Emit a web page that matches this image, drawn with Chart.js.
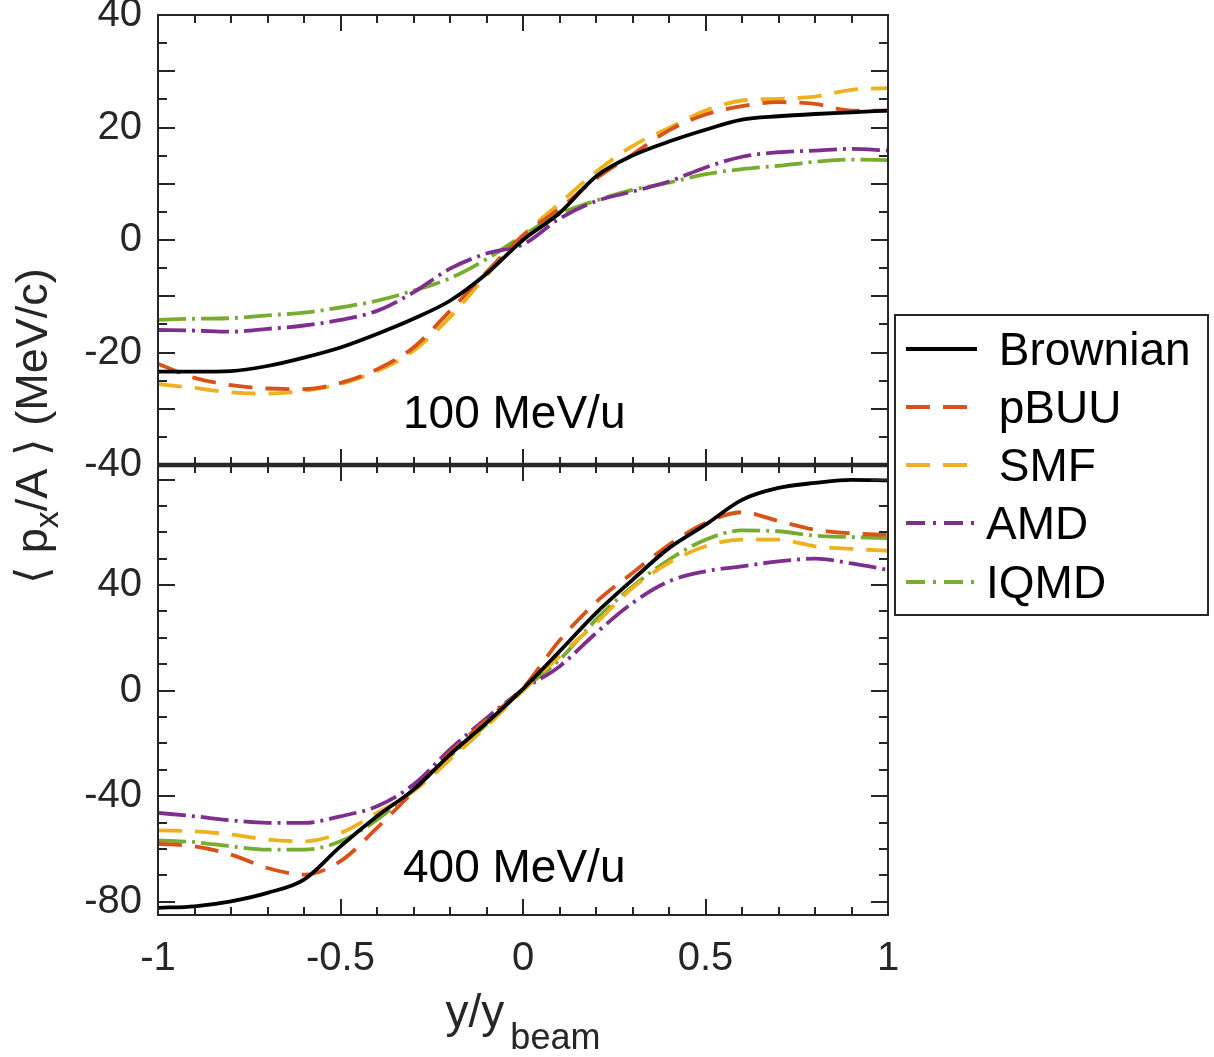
<!DOCTYPE html>
<html>
<head>
<meta charset="utf-8">
<title>Directed flow</title>
<script src="https://cdn.jsdelivr.net/npm/chart.js@4.4.1/dist/chart.umd.min.js"></script>
<style>
  html, body { margin: 0; padding: 0; background: #fff; }
  #wrap { width: 1214px; height: 1057px; }
</style>
</head>
<body>
<div id="wrap"><canvas id="flow" width="1214" height="1057"></canvas></div>
<script>
// rapidity grid, y/y_beam
const rapidity = [-1, -0.9, -0.8, -0.7, -0.6, -0.5, -0.4, -0.3, -0.2, -0.1, 0,
                  0.1, 0.2, 0.3, 0.4, 0.5, 0.6, 0.7, 0.8, 0.9, 1];

const modelNames = [' Brownian', ' pBUU', ' SMF', 'AMD', 'IQMD'];
const panelLabels = ['100 MeV/u', '400 MeV/u'];

// <px/A> (MeV/c) at 100 MeV/u
const brownian100 = [-23.4, -23.4, -23.3, -22.4, -20.9, -19.1, -16.7, -14.0, -10.8, -6.0, 0.0,
                     4.8, 11.3, 15.0, 17.5, 19.6, 21.4, 22.0, 22.4, 22.7, 23.0];
const pbuu100 = [-22.0, -24.5, -25.8, -26.4, -26.5, -25.4, -23.0, -19.1, -12.6, -5.7, 0.8,
                 5.6, 10.9, 15.2, 19.5, 22.3, 23.8, 24.5, 24.2, 23.0, 23.0];
const smf100 = [-25.6, -26.3, -27.1, -27.3, -26.8, -25.6, -23.3, -19.7, -13.7, -6.3, 0.8,
                6.5, 12.1, 16.7, 19.9, 23.0, 24.8, 25.1, 25.5, 26.7, 27.0];
const amd100 = [-16.0, -16.1, -16.3, -15.8, -15.2, -14.2, -12.6, -9.3, -5.1, -2.4, -0.8,
                3.8, 6.9, 8.6, 10.4, 12.9, 14.8, 15.6, 15.9, 16.2, 15.9];
const iqmd100 = [-14.2, -14.0, -13.9, -13.4, -12.9, -12.0, -10.8, -9.0, -6.8, -3.4, 0.8,
                 4.6, 7.0, 8.9, 10.2, 11.7, 12.6, 13.2, 13.9, 14.3, 14.2];

// <px/A> (MeV/c) at 400 MeV/u
const brownian400 = [-82.3, -81.7, -79.8, -76.6, -71.6, -59.0, -47.6, -37.5, -24.2, -12.2, 0.7,
                     14.9, 29.4, 42.0, 54.0, 62.9, 72.3, 76.8, 78.7, 79.9, 79.7];
const pbuu400 = [-58.0, -59.0, -62.1, -67.2, -69.7, -64.6, -52.0, -38.1, -23.6, -11.0, 1.0,
                 19.0, 33.5, 44.6, 55.3, 63.5, 67.6, 64.3, 61.0, 59.6, 59.0];
const smf400 = [-52.9, -53.3, -54.5, -56.4, -57.1, -53.9, -46.3, -38.1, -26.1, -13.5, 0.0,
                13.0, 25.6, 38.9, 48.4, 54.7, 57.2, 57.2, 54.7, 53.7, 53.0];
const iqmd400 = [-56.7, -57.4, -59.0, -60.2, -60.2, -57.1, -48.9, -37.5, -24.9, -12.9, 0.4,
                 11.7, 26.9, 39.5, 49.6, 57.2, 60.7, 60.4, 58.7, 58.2, 57.8];
const amd400 = [-46.3, -47.6, -49.1, -50.1, -50.1, -47.6, -43.8, -35.6, -22.3, -10.4, 0.4,
                9.2, 21.8, 33.2, 41.4, 45.2, 47.1, 49.0, 50.0, 48.2, 45.8];

const lineColors = ['#000000', '#D95319', '#EDB120', '#7E2F8E', '#77AC30'];
const lineDashes = [[], [24, 13], [24, 13], [28, 6, 3, 6], [28, 6, 3, 6]];

const FONT = "'Liberation Sans', Arial, Helvetica, sans-serif";
const AXIS_COLOR = '#262626';

const isMultiple = (v, step) => Math.abs(v / step - Math.round(v / step)) < 1e-6;

function makeDataset(values, m, axisId) {
    return {
        label: modelNames[m],
        data: rapidity.map((x, i) => ({ x: x, y: values[i] })),
        yAxisID: axisId,
        borderColor: lineColors[m],
        borderDash: lineDashes[m],
        borderWidth: 3.8,
        pointRadius: 0,
        fill: false,
        cubicInterpolationMode: 'monotone'
    };
}

const datasets = [];
[brownian100, pbuu100, smf100, amd100, iqmd100].forEach((v, m) => datasets.push(makeDataset(v, m, 'yHigh')));
[brownian400, pbuu400, smf400, amd400, iqmd400].forEach((v, m) => datasets.push(makeDataset(v, m, 'yLow')));

function fixWidth(scale) {
    scale.width = 158;
    scale.paddingTop = 0;
    scale.paddingBottom = 0;
}

// box, inward ticks on all four sides of both panels
const framePlugin = {
    id: 'frame',
    afterDatasetsDraw(chart) {
        const ctx = chart.ctx;
        const xs = chart.scales.x;
        ctx.save();
        ctx.strokeStyle = AXIS_COLOR;
        ctx.lineWidth = 2;
        [['yHigh', 10], ['yLow', 40]].forEach(([id, major]) => {
            const ys = chart.scales[id];
            const L = xs.left, R = xs.right, T = ys.top, B = ys.bottom;
            ctx.beginPath();
            ys.ticks.forEach(t => {
                const py = Math.round(ys.getPixelForValue(t.value));
                const len = isMultiple(t.value, major) ? 17 : 9;
                ctx.moveTo(L, py); ctx.lineTo(L + len, py);
                ctx.moveTo(R, py); ctx.lineTo(R - len, py);
            });
            xs.ticks.forEach(t => {
                const px = Math.round(xs.getPixelForValue(t.value));
                const len = isMultiple(t.value, 0.5) ? 16 : 8;
                ctx.moveTo(px, T); ctx.lineTo(px, T + len);
                ctx.moveTo(px, B); ctx.lineTo(px, B - len);
            });
            ctx.stroke();
            ctx.strokeRect(L, T, R - L, B - T);
        });
        // the two panel borders meet here and read as one heavier line
        const seam = chart.scales.yHigh.bottom;
        ctx.lineWidth = 4.5;
        ctx.beginPath();
        ctx.moveTo(xs.left, seam);
        ctx.lineTo(xs.right, seam);
        ctx.stroke();
        ctx.restore();
    }
};

// panel labels, legend, axis titles
const textPlugin = {
    id: 'texts',
    afterDraw(chart) {
        const ctx = chart.ctx;
        const xs = chart.scales.x;
        ctx.save();

        // panel labels
        ctx.fillStyle = '#000';
        ctx.font = '46px ' + FONT;
        ctx.textAlign = 'left';
        ctx.textBaseline = 'alphabetic';
        ctx.fillText(panelLabels[0], 403, 428);
        ctx.fillText(panelLabels[1], 403, 882);

        // legend
        const bx = 895, by = 315, bw = 313, bh = 300;
        ctx.fillStyle = '#fff';
        ctx.fillRect(bx, by, bw, bh);
        ctx.strokeStyle = AXIS_COLOR;
        ctx.lineWidth = 2;
        ctx.strokeRect(bx, by, bw, bh);
        const rowY = [349, 407, 465, 523, 582];
        ctx.font = '46px ' + FONT;
        modelNames.forEach((name, m) => {
            ctx.save();
            ctx.strokeStyle = lineColors[m];
            ctx.lineWidth = 3.8;
            ctx.setLineDash(m >= 3 ? [19, 8, 3, 8] : lineDashes[m]);
            ctx.beginPath();
            ctx.moveTo(906, rowY[m]);
            ctx.lineTo(977, rowY[m]);
            ctx.stroke();
            ctx.restore();
            ctx.fillStyle = '#000';
            ctx.fillText(name, 986, rowY[m] + 16);
        });

        // x title: y/y_beam
        ctx.fillStyle = AXIS_COLOR;
        const main = 'y/y', sub = 'beam';
        ctx.font = '46px ' + FONT;
        const w1 = ctx.measureText(main).width;
        ctx.font = '36px ' + FONT;
        const w2 = ctx.measureText(sub).width;
        const cx = (xs.left + xs.right) / 2;
        const sx = cx - (w1 + 6 + w2) / 2;
        ctx.font = '46px ' + FONT;
        ctx.fillText(main, sx, 1027);
        ctx.font = '36px ' + FONT;
        ctx.fillText(sub, sx + w1 + 6, 1049);

        // y title: <px/A> (MeV/c)
        ctx.translate(35, 426);
        ctx.rotate(-Math.PI / 2);
        ctx.textBaseline = 'middle';
        const parts = [
            { t: '\u27E8 p', size: 45, dy: 0 },
            { t: 'x', size: 34, dy: 14 },
            { t: '/A \u27E9 (MeV/c)', size: 45, dy: 0 }
        ];
        let total = 0;
        parts.forEach(p => { ctx.font = p.size + 'px ' + FONT; p.w = ctx.measureText(p.t).width; total += p.w; });
        let px = -total / 2;
        parts.forEach(p => {
            ctx.font = p.size + 'px ' + FONT;
            ctx.fillText(p.t, px, p.dy);
            px += p.w;
        });
        ctx.restore();
    }
};

new Chart(document.getElementById('flow').getContext('2d'), {
    type: 'line',
    data: { datasets: datasets },
    options: {
        responsive: false,
        animation: false,
        devicePixelRatio: 1,
        layout: { padding: { left: 0, top: 15, right: 326, bottom: 0 } },
        plugins: { legend: { display: false }, tooltip: { enabled: false } },
        scales: {
            x: {
                type: 'linear',
                position: 'bottom',
                min: -1,
                max: 1,
                grid: { display: false, drawTicks: false },
                border: { display: false },
                ticks: {
                    stepSize: 0.1,
                    autoSkip: false,
                    maxRotation: 0,
                    padding: 20,
                    color: AXIS_COLOR,
                    font: { size: 40, family: FONT },
                    callback: v => {
                        const r = Math.round(v * 10) / 10;
                        return isMultiple(r, 0.5) ? String(r) : '';
                    }
                },
                afterFit: s => { s.height = 142; s.paddingLeft = 0; s.paddingRight = 0; }
            },
            yLow: {
                type: 'linear',
                position: 'left',
                stack: 'panels',
                stackWeight: 1,
                min: -85,
                max: 85.5,
                grid: { display: false, drawTicks: false },
                border: { display: false },
                ticks: {
                    stepSize: 10,
                    includeBounds: false,
                    autoSkip: false,
                    padding: 16,
                    color: AXIS_COLOR,
                    font: { size: 40, family: FONT },
                    callback: v => (isMultiple(v, 40) && v !== 80) ? String(v) : ''
                },
                afterFit: fixWidth
            },
            yHigh: {
                type: 'linear',
                position: 'left',
                stack: 'panels',
                stackWeight: 1,
                min: -40,
                max: 40,
                grid: { display: false, drawTicks: false },
                border: { display: false },
                ticks: {
                    stepSize: 5,
                    includeBounds: false,
                    autoSkip: false,
                    padding: 16,
                    color: AXIS_COLOR,
                    font: { size: 40, family: FONT },
                    callback: v => isMultiple(v, 20) ? String(v) : ''
                },
                afterFit: fixWidth
            }
        }
    },
    plugins: [framePlugin, textPlugin]
});
</script>
</body>
</html>
